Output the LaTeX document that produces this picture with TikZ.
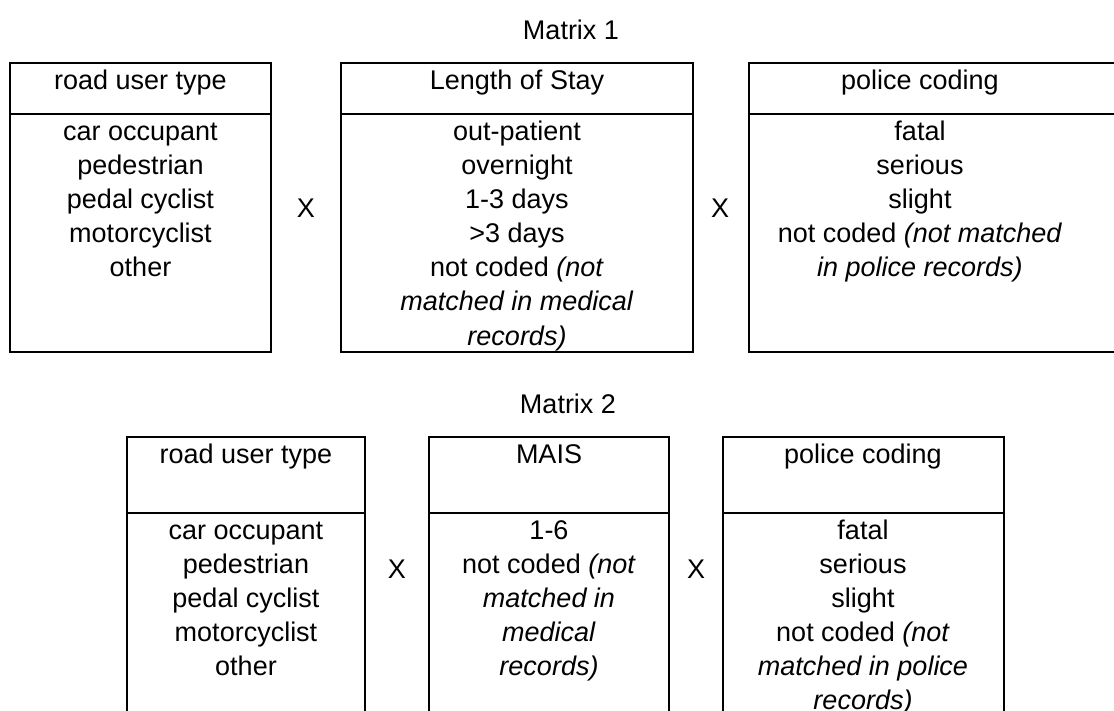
\documentclass[tikz,border=0pt]{standalone}
\usepackage{fontspec}
\setmainfont{Liberation Sans}
\begin{document}
\begin{tikzpicture}[x=1pt,y=-1pt,
  txt/.style={anchor=base, inner sep=0pt, font=\fontsize{27}{34}\selectfont},
  box/.style={draw, line width=1.8pt}]
\useasboundingbox (0,0) rectangle (1114,711);
\begin{scope}
\clip (0,0) rectangle (1114,711);
% Matrix 1 boxes
\draw[box] (10,63) rectangle (271,352);   \draw[box] (10,114) -- (271,114);
\draw[box] (341,63) rectangle (693,352);  \draw[box] (341,114) -- (693,114);
\draw[box] (749,63) rectangle (1125,352); \draw[box] (749,114) -- (1125,114);
% Matrix 2 boxes
\draw[box] (127,437) rectangle (365,725); \draw[box] (127,513) -- (365,513);
\draw[box] (429,437) rectangle (669,725); \draw[box] (429,513) -- (669,513);
\draw[box] (723,437) rectangle (1004,725); \draw[box] (723,513) -- (1004,513);
\end{scope}
% titles
\node[txt] (m1) at (571,40) {Matrix 1};
\node[txt] (m2) at (568,413) {Matrix 2};
% Matrix 1 headers
\node[txt] (h11) at (140.5,90) {road user type};
\node[txt] (h12) at (517,90) {Length of Stay};
\node[txt] (h13) at (920,90) {police coding};
% Matrix 1 bodies
\foreach \t [count=\i] in {car occupant, pedestrian, pedal cyclist, motorcyclist, other}
  \node[txt] (a\i) at (140.5,{141+34*(\i-1)}) {\t};
\foreach \t [count=\i] in {out-patient, overnight, 1-3 days, >3 days, {not coded \textit{(not}}, \textit{matched in medical}, \textit{records)}}
  \node[txt] (b\i) at (517,{141+34*(\i-1)}) {\t};
\foreach \t [count=\i] in {fatal, serious, slight, {not coded \textit{(not matched}}, \textit{in police records)}}
  \node[txt] (c\i) at (920,{141+34*(\i-1)}) {\t};
\node[txt] (x11) at (306,218) {X};
\node[txt] (x12) at (720,218) {X};
% Matrix 2 headers
\node[txt] (h21) at (246,463) {road user type};
\node[txt] (h22) at (549,463) {MAIS};
\node[txt] (h23) at (863,463) {police coding};
% Matrix 2 bodies
\foreach \t [count=\i] in {car occupant, pedestrian, pedal cyclist, motorcyclist, other}
  \node[txt] (d\i) at (246,{539+34*(\i-1)}) {\t};
\foreach \t [count=\i] in {1-6, {not coded \textit{(not}}, \textit{matched in}, \textit{medical}, \textit{records)}}
  \node[txt] (e\i) at (549,{539+34*(\i-1)}) {\t};
\foreach \t [count=\i] in {fatal, serious, slight, {not coded \textit{(not}}, \textit{matched in police}, \textit{records)}}
  \node[txt] (f\i) at (863,{539+34*(\i-1)}) {\t};
\node[txt] (x21) at (397,578) {X};
\node[txt] (x22) at (696,578) {X};
\end{tikzpicture}
\end{document}
